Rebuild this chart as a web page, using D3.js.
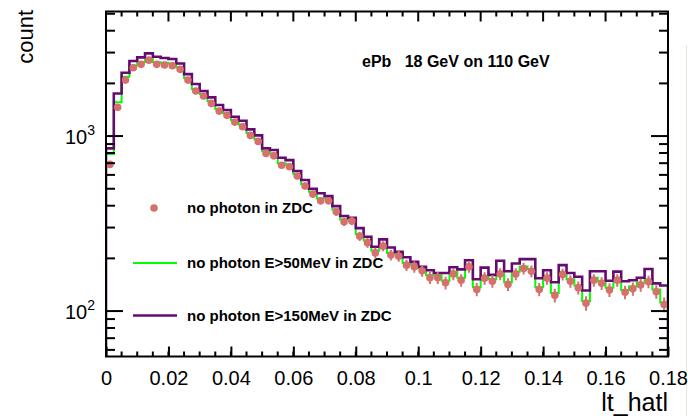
<!DOCTYPE html>
<html>
<head>
<meta charset="utf-8">
<script src="https://cdn.jsdelivr.net/npm/d3@7"></script>
<style>
body { margin: 0; background: #fff; }
svg { display: block; font-family: "Liberation Sans", Arial, Helvetica, sans-serif; }
</style>
</head>
<body>
<svg width="688" height="416"></svg>
<script>
// binning of |t_hat| : 72 bins of 0.0025 from 0 to 0.18
var binWidth = 0.0025;
var xRange = [0, 0.18];
var yRange = [55, 5150];

// markers: no photon in ZDC
var noPhoton = [689,1459,2089,2455,2570,2716,2570,2546,2520,2405,
  2089,1808,1693,1537,1389,1313,1202,1130,1009,932,
  796,771,681,668,591,518,466,427,427,369,
  324,327,268,246,215,235,209,206,183,179,
  170,155,155,145,163,150,179,133,154,148,
  163,142,163,175,169,133,154,123,162,148,
  136,111,150,144,132,150,128,134,141,147,
  129,109];

// green: no photon E>50MeV in ZDC
var noPhoton50 = [790,1560,2180,2530,2640,2790,2640,2620,2590,2470,
  2150,1860,1740,1580,1430,1350,1235,1160,1040,960,
  820,795,700,688,608,533,480,440,440,380,
  334,337,276,253,221,242,215,212,188,184,
  175,160,160,149,168,155,184,137,159,152,
  168,146,168,180,174,137,159,127,167,152,
  140,114,155,148,136,155,132,138,145,151,
  133,112];

// purple: no photon E>150MeV in ZDC
var noPhoton150 = [851,1752,2300,2683,2818,2968,2840,2792,2754,2600,
  2259,1982,1808,1664,1504,1408,1289,1223,1092,1009,
  851,832,752,729,631,561,500,471,454,398,
  349,341,298,266,233,257,231,218,203,191,
  179,171,165,165,178,173,195,152,177,161,
  194,169,187,198,198,154,171,146,183,165,
  157,131,169,169,149,168,148,150,155,174,
  144,140];

var xMajor = d3.range(0, 0.1801, 0.02);
var xMinor = d3.range(0, 0.1801, 0.005);
var yMajor = [100, 1000];
var yMinor = [60,70,80,90,200,300,400,500,600,700,800,900,2000,3000,4000,5000];

var colMarker = "#d6706c";
var colGreen = "#00ff00";
var colPurple = "#650a70";

var svg = d3.select("svg");
var L = 106, R = 668, T = 11.5, B = 356.5;

var x = d3.scaleLinear().domain(xRange).range([L, R]);
var y = d3.scaleLog().domain(yRange).range([B, T]);

svg.append("defs").append("clipPath").attr("id", "frame")
  .append("rect").attr("x", L).attr("y", T - 2).attr("width", R - L).attr("height", B - T + 2);

// faint edge of neighbouring pad
svg.append("line").attr("x1", 686.5).attr("x2", 686.5).attr("y1", 45).attr("y2", 416)
  .style("stroke", "#e3ead6").style("stroke-width", 1);

// histogram outline, ROOT style (starts and ends on the lower edge)
function histPath(vals) {
  var pts = [[x(0), B]];
  vals.forEach(function(v, i) { pts.push([x(i * binWidth), y(v)]); });
  pts.push([x(vals.length * binWidth), y(vals[vals.length - 1])]);
  pts.push([x(vals.length * binWidth), B]);
  return d3.line().curve(d3.curveStepAfter)(pts);
}

var plot = svg.append("g").attr("clip-path", "url(#frame)");

plot.append("path").attr("d", histPath(noPhoton50))
  .style("fill", "none").style("stroke", colGreen).style("stroke-width", 2);

plot.append("path").attr("d", histPath(noPhoton150))
  .style("fill", "none").style("stroke", colPurple).style("stroke-width", 2.6);

// markers with statistical error bars
var pts = plot.append("g");
noPhoton.forEach(function(v, i) {
  var cx = x((i + 0.5) * binWidth);
  var e = Math.sqrt(v);
  pts.append("line").attr("x1", cx).attr("x2", cx)
    .attr("y1", y(v + e)).attr("y2", y(v - e))
    .style("stroke", colMarker).style("stroke-width", 2);
  pts.append("circle").attr("cx", cx).attr("cy", y(v)).attr("r", 3.8)
    .style("fill", colMarker);
});

// axes: ticks point inwards, mirrored on top and right
var ax = svg.append("g");
var xAxis = d3.axisBottom(x).tickValues(xMajor).tickFormat(d3.format("~g"))
  .tickSizeInner(-10).tickSizeOuter(0).tickPadding(16);
var gx = ax.append("g").attr("transform", "translate(0," + B + ")").call(xAxis);
gx.select(".domain").remove();
gx.selectAll("line").style("stroke", "#000").style("stroke-width", 2);
gx.selectAll("text").style("font-size", "20px").style("fill", "#000")
  .attr("y", 14).attr("dy", "0.71em");

xMinor.forEach(function(v) {
  ax.append("line").attr("x1", x(v)).attr("x2", x(v)).attr("y1", B).attr("y2", B - 5)
    .style("stroke", "#000").style("stroke-width", 2);
});
xMinor.forEach(function(v) {
  var big = xMajor.some(function(m) { return Math.abs(m - v) < 1e-9; });
  ax.append("line").attr("x1", x(v)).attr("x2", x(v)).attr("y1", T).attr("y2", T + (big ? 10 : 5))
    .style("stroke", "#000").style("stroke-width", 2);
});

yMajor.concat(yMinor).forEach(function(v) {
  var len = yMajor.indexOf(v) >= 0 ? 17 : 9;
  ax.append("line").attr("x1", L).attr("x2", L + len).attr("y1", y(v)).attr("y2", y(v))
    .style("stroke", "#000").style("stroke-width", 2);
  ax.append("line").attr("x1", R).attr("x2", R - len).attr("y1", y(v)).attr("y2", y(v))
    .style("stroke", "#000").style("stroke-width", 2);
});

yMajor.forEach(function(v) {
  var t = ax.append("text").attr("x", 95).attr("y", y(v) + 8)
    .attr("text-anchor", "end").style("font-size", "20px");
  t.append("tspan").text("10");
  t.append("tspan").attr("dy", -9).style("font-size", "14px").text(String(Math.round(Math.log10(v))));
});

// frame
ax.append("rect").attr("x", L).attr("y", T).attr("width", R - L).attr("height", B - T)
  .style("fill", "none").style("stroke", "#000").style("stroke-width", 2);

// axis titles
svg.append("text").attr("transform", "translate(33,10) rotate(-90)")
  .attr("text-anchor", "end").style("font-size", "22px").text("count");
svg.append("text").attr("x", 668).attr("y", 411).attr("text-anchor", "end")
  .style("font-size", "25px").text("lt_hatl");

// label
svg.append("text").attr("x", 362).attr("y", 67).style("font-size", "16px")
  .style("font-weight", "bold").style("white-space", "pre").text("ePb   18 GeV on 110 GeV");

// legend
var lg = svg.append("g").style("font-size", "15px").style("font-weight", "bold");
lg.append("circle").attr("cx", 154).attr("cy", 208).attr("r", 3.8).style("fill", colMarker);
lg.append("text").attr("x", 187).attr("y", 213).text("no photon in ZDC");
lg.append("line").attr("x1", 133).attr("x2", 177).attr("y1", 263).attr("y2", 263)
  .style("stroke", colGreen).style("stroke-width", 2);
lg.append("text").attr("x", 187).attr("y", 268).text("no photon E>50MeV in ZDC");
lg.append("line").attr("x1", 133).attr("x2", 177).attr("y1", 315.5).attr("y2", 315.5)
  .style("stroke", colPurple).style("stroke-width", 2.6);
lg.append("text").attr("x", 187).attr("y", 320.5).text("no photon E>150MeV in ZDC");
</script>
</body>
</html>
